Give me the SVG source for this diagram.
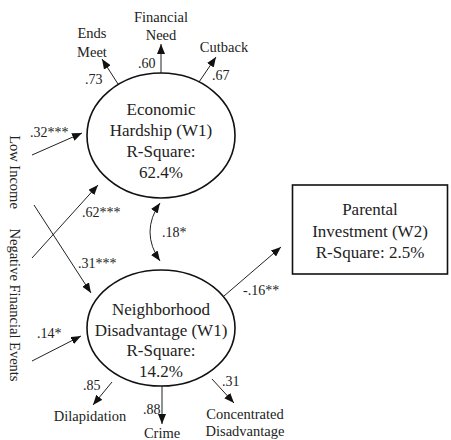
<svg xmlns="http://www.w3.org/2000/svg" width="451" height="440" viewBox="0 0 451 440" font-family="'Liberation Serif', 'DejaVu Serif', serif">
<defs>
<style>
text{font-family:'Liberation Serif','DejaVu Serif',serif;fill:#222;}
.big{font-size:17px;text-anchor:middle;}
.lab{font-size:14.5px;text-anchor:middle;}
.coef{font-size:14px;}
.shape{fill:#fff;stroke:#111;stroke-width:1.6;}
.con{stroke:#222;stroke-width:1;fill:none;}
</style>
<marker id="ah" viewBox="0 0 10 8" refX="10" refY="4" markerWidth="10" markerHeight="8" markerUnits="userSpaceOnUse" orient="auto-start-reverse">
<path d="M0,0 L10,4 L0,8 Z" fill="#111"/>
</marker>
</defs>
<rect width="451" height="440" fill="#fff"/>
<g id="connectors">
<line class="con" x1="118" y1="84" x2="102" y2="59" marker-end="url(#ah)"/>
<line class="con" x1="161" y1="73" x2="161" y2="44" marker-end="url(#ah)"/>
<line class="con" x1="199" y1="82" x2="216" y2="57" marker-end="url(#ah)"/>
<line class="con" x1="32" y1="155" x2="82" y2="133" marker-end="url(#ah)"/>
<line class="con" x1="32" y1="258" x2="98" y2="185" marker-end="url(#ah)"/>
<line class="con" x1="34" y1="205" x2="91" y2="293" marker-end="url(#ah)"/>
<line class="con" x1="32" y1="361" x2="81" y2="336" marker-end="url(#ah)"/>
<path class="con" d="M160,203 Q140,232 160,261" marker-start="url(#ah)" marker-end="url(#ah)"/>
<line class="con" x1="224" y1="296" x2="281" y2="247" marker-end="url(#ah)"/>
<line class="con" x1="112" y1="382" x2="93" y2="405" marker-end="url(#ah)"/>
<line class="con" x1="162" y1="386" x2="162" y2="424" marker-end="url(#ah)"/>
<line class="con" x1="212" y1="379" x2="234" y2="403" marker-end="url(#ah)"/>
<text class="coef" x="85" y="84">.73</text>
<text class="coef" x="138" y="68">.60</text>
<text class="coef" x="212" y="80">.67</text>
<text class="coef" x="30" y="137">.32***</text>
<text class="coef" x="82" y="217">.62***</text>
<text class="coef" x="78" y="268">.31***</text>
<text class="coef" x="37" y="338">.14*</text>
<text class="coef" x="162" y="237">.18*</text>
<text class="coef" x="243" y="295">-.16**</text>
<text class="coef" x="83" y="390">.85</text>
<text class="coef" x="143" y="414">.88</text>
<text class="coef" x="222" y="386">.31</text>
</g>
<g id="econ-hardship">
<ellipse class="shape" cx="161" cy="135.5" rx="74" ry="62.5"/>
<text class="big" x="161" y="115">Economic</text>
<text class="big" x="161" y="136">Hardship (W1)</text>
<text class="big" x="161" y="157">R-Square:</text>
<text class="big" x="161" y="178">62.4%</text>
</g>
<g id="neighborhood">
<ellipse class="shape" cx="161" cy="328" rx="74" ry="58"/>
<text class="big" x="161" y="315">Neighborhood</text>
<text class="big" x="161" y="336">Disadvantage (W1)</text>
<text class="big" x="161" y="356">R-Square:</text>
<text class="big" x="161" y="377">14.2%</text>
</g>
<g id="parental-investment">
<rect class="shape" x="292.5" y="185" width="155" height="89"/>
<text class="big" x="370" y="215">Parental</text>
<text class="big" x="370" y="237">Investment (W2)</text>
<text class="big" x="370" y="258">R-Square: 2.5%</text>
</g>
<g id="low-income">
<text class="lab" transform="translate(10,172) rotate(90)" x="0" y="0">Low Income</text>
</g>
<g id="negative-financial-events">
<text class="lab" transform="translate(10,305) rotate(90)" x="0" y="0">Negative Financial Events</text>
</g>
<g id="ends-meet">
<text class="lab" x="92" y="38">Ends</text>
<text class="lab" x="92" y="57">Meet</text>
</g>
<g id="financial-need">
<text class="lab" x="161" y="22">Financial</text>
<text class="lab" x="161" y="40">Need</text>
</g>
<g id="cutback">
<text class="lab" x="224" y="52">Cutback</text>
</g>
<g id="dilapidation">
<text class="lab" x="90" y="421">Dilapidation</text>
</g>
<g id="crime">
<text class="lab" x="162" y="438">Crime</text>
</g>
<g id="concentrated-disadvantage">
<text class="lab" x="245" y="419">Concentrated</text>
<text class="lab" x="245" y="436">Disadvantage</text>
</g>
</svg>
